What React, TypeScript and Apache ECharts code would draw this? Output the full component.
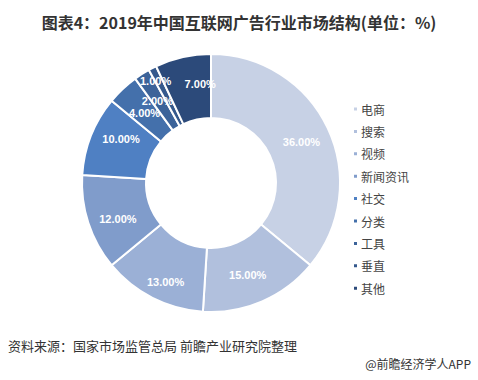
import React, { useEffect, useRef } from "react";
import * as echarts from "echarts";

const categories = ["电商", "搜索", "视频", "新闻资讯", "社交", "分类", "工具", "垂直", "其他"];
const values = [36, 15, 13, 12, 10, 4, 2, 1, 7];
const colors = ["#c7d1e5", "#b1c0dd", "#9bb0d6", "#809ccb", "#4f80c3", "#4470ab", "#3c6399", "#35598c", "#2c4a7a"];
// label nudges (style only) to mirror the reference placement
const labelOffsets = [[0, 2], [-3, 0], [0, 10], [2, 5], [3, -7], [2, 3], [0, 2], [-10, -13], [11, -1]];

export default function App() {
  const ref = useRef<HTMLDivElement>(null);
  useEffect(() => {
    const chart = echarts.init(ref.current!, null, { renderer: "svg" });
    chart.setOption({
      animation: false,
      backgroundColor: "#ffffff",
      color: colors,
      title: {
        text: "图表4：2019年中国互联网广告行业市场结构(单位：%)",
        left: "center",
        top: 9,
        textStyle: {
          fontFamily: "Noto Sans CJK SC",
          fontSize: 16,
          fontWeight: "bold",
          color: "#333333",
        },
      },
      legend: {
        orient: "vertical",
        left: 347,
        top: 98,
        itemWidth: 5,
        itemHeight: 5,
        itemGap: 10.4,
        icon: "rect",
        data: categories,
        textStyle: { fontFamily: "Noto Sans CJK SC", fontSize: 12, color: "#444444", padding: [0, 0, 0, -2] },
      },
      graphic: [
        {
          type: "text",
          left: 8,
          top: 339,
          style: {
            text: "资料来源：国家市场监管总局 前瞻产业研究院整理",
            font: "13px 'Noto Sans CJK SC'",
            fill: "#333333",
          },
        },
        {
          type: "text",
          right: 7,
          top: 357,
          style: {
            text: "@前瞻经济学人APP",
            font: "12px 'Noto Sans CJK SC'",
            fill: "#333333",
          },
        },
      ],
      series: [
        {
          type: "pie",
          center: [211, 183],
          radius: [65, 129],
          startAngle: 90,
          clockwise: true,
          avoidLabelOverlap: false,
          labelLayout: { hideOverlap: false },
          itemStyle: { borderColor: "#ffffff", borderWidth: 2 },
          label: {
            show: true,
            position: "inside",
            formatter: (p: any) => p.value.toFixed(2) + "%",
            color: "#ffffff",
            fontFamily: "Arial",
            fontWeight: "bold",
            fontSize: 11,
          },
          labelLine: { show: false },
          emphasis: { disabled: true },
          data: categories.map((c, i) => ({
            name: c,
            value: values[i],
            label: { offset: labelOffsets[i] },
          })),
        },
      ],
    });
    return () => chart.dispose();
  }, []);
  return <div ref={ref} style={{ width: 478, height: 380, position: "absolute", left: 0, top: 0 }} />;
}
